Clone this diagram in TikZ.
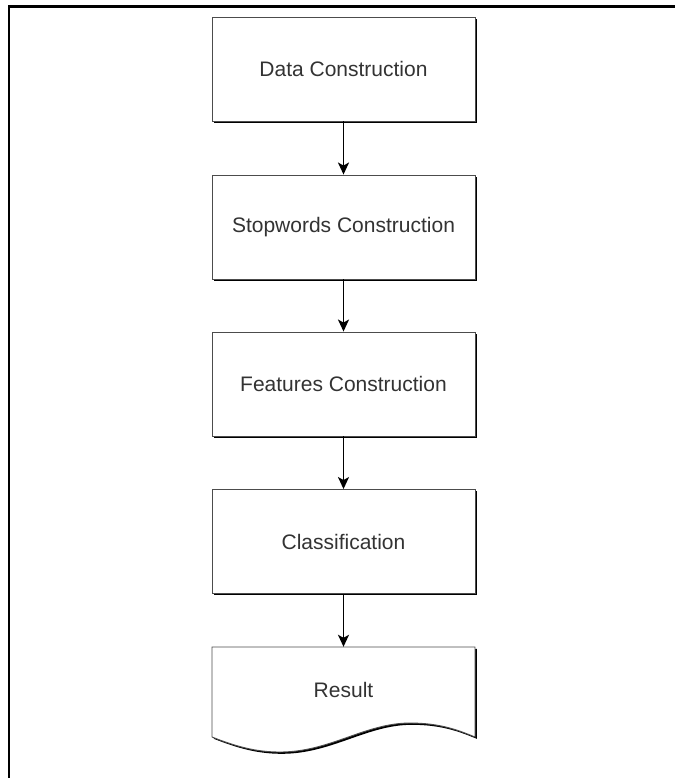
\documentclass[tikz,border=0pt]{standalone}
\usepackage{fontspec}
\setmainfont{Liberation Sans}
\usetikzlibrary{shadows,arrows.meta}

\tikzset{
  stage/.style={draw=black!70,fill=white,line width=0.9pt,
    minimum width=263pt,minimum height=104pt,
    font=\fontsize{21}{25}\selectfont,text=black!80,
    drop shadow={shadow xshift=1.8pt,shadow yshift=-1.8pt,fill=black,opacity=1}},
  docbox/.style={minimum width=263pt,minimum height=90pt,
    font=\fontsize{21}{25}\selectfont,text=black!80},
  flow/.style={-{Stealth[length=12pt,width=11pt,inset=3pt]},line width=1.8pt}
}

\begin{document}
\begin{tikzpicture}[x=1pt,y=-1pt]
  \useasboundingbox (0,0) rectangle (675,778);
  % frame
  \draw[line width=2.2pt] (9,778) -- (9,6.5) -- (675,6.5);
  \draw
    (343.5,69) node[stage] (data){Data Construction}
    (343.5,227) node[stage] (stop){Stopwords Construction}
    (343.5,384) node[stage] (feat){Features Construction}
    (343.5,541.5) node[stage] (cls){Classification};
  % result sheet
  \path[draw=black!70,fill=white,line width=0.9pt,
    drop shadow={shadow xshift=1.8pt,shadow yshift=-1.8pt,fill=black,opacity=1}]
    (212,647) -- (475,647) -- (475,737)
    .. controls (458,730) and (440,723) .. (410,723)
    .. controls (365,723) and (330,752) .. (280,752)
    .. controls (255,752) and (235,746) .. (212,737) -- cycle;
  \node[docbox] (res) at (343.5,692) {\raisebox{5pt}{Result}};
  \begin{scope}[flow]
    \draw (data) -- (stop);
    \draw (stop) -- (feat);
    \draw (feat) -- (cls);
    \draw (cls) -- (res);
  \end{scope}
\end{tikzpicture}
\end{document}
